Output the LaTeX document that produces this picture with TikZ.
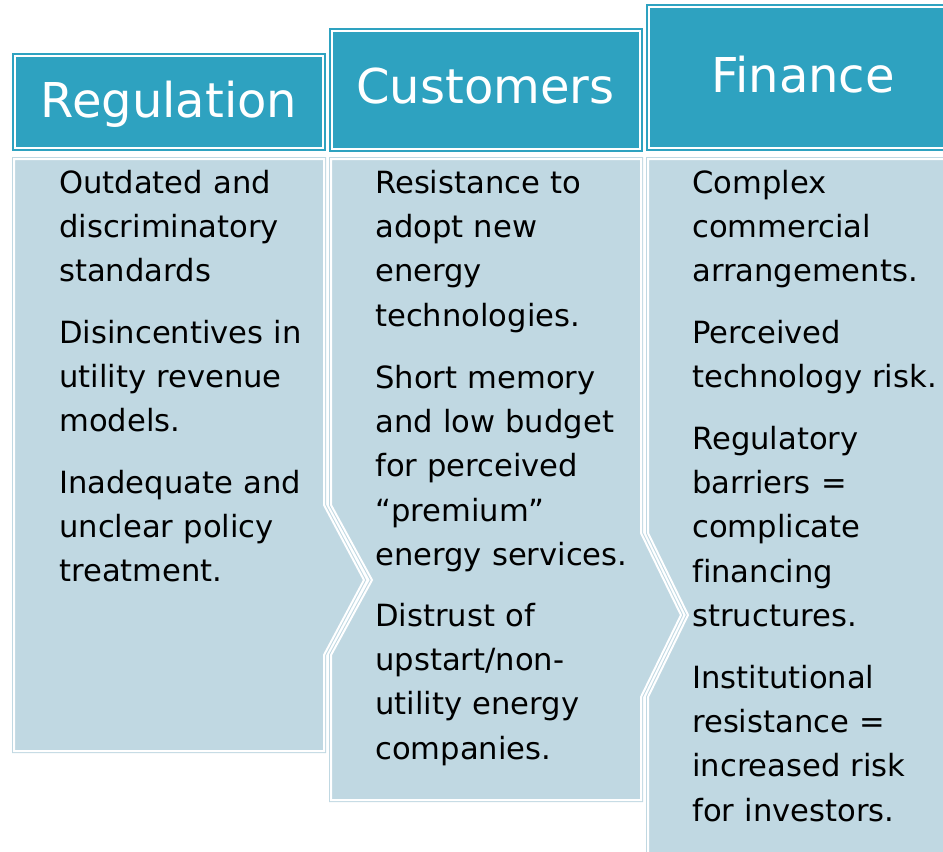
\documentclass[tikz,border=0pt]{standalone}
\usepackage{fontspec}
\setmainfont{DejaVu Sans}[Ligatures=NoCommon]
\definecolor{headteal}{RGB}{46,162,192}
\definecolor{bodyblue}{RGB}{192,216,226}

\begin{document}
\begin{tikzpicture}[x=0.75pt, y=-0.75pt,
    headbox/.style={fill=headteal, draw=headteal, double=white, line width=1.5pt, double distance=1.5pt},
    bodybox/.style={fill=bodyblue, draw=bodyblue, double=white, line width=0.75pt, double distance=1.5pt},
    headtext/.style={text=white, inner sep=0pt, anchor=base, font=\fontsize{36}{43}\selectfont},
    bodytext/.style={inner sep=0pt, anchor=base west, text width=230pt, align=left, font=\fontsize{22.95}{33.3}\selectfont}]
    \useasboundingbox (0,0) rectangle (943,851);
    \clip (0,0) rectangle (943,851);

    % chevron bodies
    \draw[bodybox] (14,159) -- (324,159) -- (324,505) -- (364,580) -- (324,655) -- (324,751) -- (14,751) -- cycle;
    \draw[bodybox] (331,159) -- (641,159) -- (641,533) -- (681,615) -- (641,697) -- (641,800) -- (331,800)
        -- (331,655) -- (372,580) -- (331,505) -- cycle;
    \draw[bodybox] (648,159) -- (959,159) -- (959,898) -- (648,898) -- (648,697) -- (688,615) -- (648,533) -- cycle;

    % headers
    \draw[headbox] (15,56) rectangle (323,148);
    \draw[headbox] (332,31) rectangle (640,149);
    \draw[headbox] (649,7) rectangle (958,148);

    \node[headtext] (reg) at (169,117) {Regulation};
    \node[headtext] (cus) at (485.5,103) {Customers};
    \node[headtext] (fin) at (803,92) {Finance};

    \node[bodytext] (reg1) at (59,193) {Outdated and\\discriminatory\\standards};
    \node[bodytext] (reg2) at (59,343) {Disincentives in\\utility revenue\\models.};
    \node[bodytext] (reg3) at (59,493) {Inadequate and\\unclear policy\\treatment.};

    \node[bodytext] (cus1) at (375,193) {Resistance to\\adopt new\\energy\\technologies.};
    \node[bodytext] (cus2) at (375,388) {Short memory\\and low budget\\for perceived\\“premium”\\energy services.};
    \node[bodytext] (cus3) at (375,626) {Distrust of\\upstart/non-\\utility energy\\companies.};

    \node[bodytext] (fin1) at (692,193) {Complex\\commercial\\arrangements.};
    \node[bodytext] (fin2) at (692,343) {Perceived\\technology risk.};
    \node[bodytext] (fin3) at (692,449) {Regulatory\\barriers =\\complicate\\financing\\structures.};
    \node[bodytext] (fin4) at (692,688) {Institutional\\resistance =\\increased risk\\for investors.};
\end{tikzpicture}
\end{document}
